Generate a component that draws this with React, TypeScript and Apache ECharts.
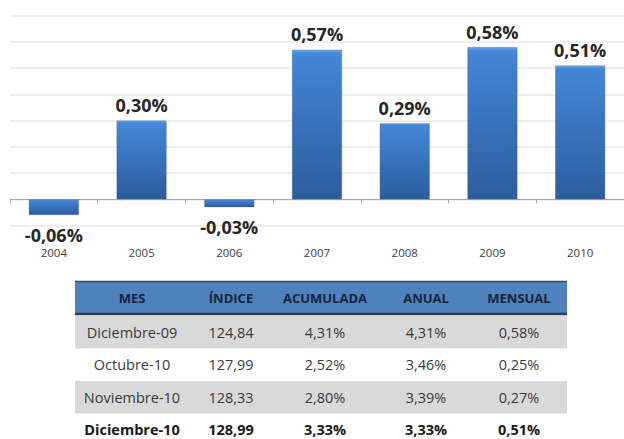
import React, { useEffect, useRef } from "react";
import * as echarts from "echarts";

const categories = ["2004", "2005", "2006", "2007", "2008", "2009", "2010"];
const values = [-0.06, 0.3, -0.03, 0.57, 0.29, 0.58, 0.51];
const yMin = -0.1;
const yMax = 0.7;
const yInterval = 0.1;

const tableHeaders = ["MES", "ÍNDICE", "ACUMULADA", "ANUAL", "MENSUAL"];
const tableMonths = ["Diciembre-09", "Octubre-10", "Noviembre-10", "Diciembre-10"];
const tableIndex = ["124,84", "127,99", "128,33", "128,99"];
const tableAcumulada = ["4,31%", "2,52%", "2,80%", "3,33%"];
const tableAnual = ["4,31%", "3,46%", "3,39%", "3,33%"];
const tableMensual = ["0,58%", "0,25%", "0,27%", "0,51%"];

const fmt = (v: number) => v.toFixed(2).replace(".", ",") + "%";

function buildTable() {
  const left = 75;
  const right = 567;
  const colCenters = [132, 231, 325, 426, 519];
  const headerTop = 281;
  const headerBottom = 315;
  const rowH = 32.5;
  const els: any[] = [];
  els.push({
    type: "rect",
    shape: { x: left, y: headerTop, width: right - left, height: headerBottom - headerTop },
    style: { fill: "#4f81bd" },
  });
  els.push({
    type: "line",
    shape: { x1: left, y1: headerTop + 0.5, x2: right, y2: headerTop + 0.5 },
    style: { stroke: "#34495e", lineWidth: 1.5 },
  });
  els.push({
    type: "line",
    shape: { x1: left, y1: headerBottom - 1, x2: right, y2: headerBottom - 1 },
    style: { stroke: "#2c3e55", lineWidth: 2.5 },
  });
  tableHeaders.forEach((h, i) => {
    els.push({
      type: "text",
      style: {
        text: h,
        x: colCenters[i],
        y: (headerTop + headerBottom) / 2,
        align: "center",
        verticalAlign: "middle",
        textAlign: "center",
        textVerticalAlign: "middle",
        font: "bold 13px 'Open Sans'",
        fill: "#17243a",
      },
    });
  });
  const cols = [tableMonths, tableIndex, tableAcumulada, tableAnual, tableMensual];
  tableMonths.forEach((_, r) => {
    const top = headerBottom + 1 + r * rowH;
    if (r % 2 === 0) {
      els.push({
        type: "rect",
        shape: { x: left, y: top, width: right - left, height: rowH },
        style: { fill: "#d9d9d9" },
      });
    }
    const last = r === tableMonths.length - 1;
    cols.forEach((col, c) => {
      els.push({
        type: "text",
        style: {
          text: col[r],
          x: colCenters[c],
          y: top + rowH / 2,
          align: "center",
          verticalAlign: "middle",
          textAlign: "center",
          textVerticalAlign: "middle",
          font: last ? "bold 14.5px 'Open Sans'" : "14.5px 'Open Sans'",
          fill: last ? "#1a1a1a" : "#3a3a3a",
        },
      });
    });
  });
  return els;
}

export default function App() {
  const ref = useRef<HTMLDivElement>(null);
  useEffect(() => {
    if (!ref.current) return;
    const chart = echarts.init(ref.current, undefined, { renderer: "svg" });
    const barColor = new echarts.graphic.LinearGradient(0, 0, 0, 1, [
      { offset: 0, color: "#6ea6ea" },
      { offset: 0.025, color: "#4486d8" },
      { offset: 1, color: "#2c5d9d" },
    ]);
    chart.setOption({
      animation: false,
      backgroundColor: "#ffffff",
      grid: { left: 10, top: 15.5, width: 623, height: 210 },
      xAxis: [
        {
          type: "category",
          data: categories,
          position: "bottom",
          axisLine: { show: false, onZero: false },
          axisTick: { show: false },
          axisLabel: {
            margin: 21,
            color: "#404040",
            fontSize: 11.5,
            lineHeight: 12,
            fontFamily: "Open Sans",
          },
        },
        {
          type: "category",
          data: categories,
          position: "bottom",
          axisLine: { show: true, onZero: true, lineStyle: { color: "#a6a6a6", width: 1 } },
          axisTick: { show: true, length: 4, lineStyle: { color: "#a6a6a6" } },
          axisLabel: { show: false },
        },
      ],
      yAxis: {
        type: "value",
        min: yMin,
        max: yMax,
        interval: yInterval,
        axisLabel: { show: false },
        axisLine: { show: false },
        axisTick: { show: false },
        splitLine: { lineStyle: { color: "#e8e8e8", width: 1.5 } },
      },
      series: [
        {
          type: "bar",
          xAxisIndex: 0,
          barWidth: 50,
          data: values.map((v) => ({
            value: v,
            label: v < 0 ? { position: "bottom", distance: 11 } : { position: "top", distance: 7 },
          })),
          itemStyle: { color: barColor, borderColor: "rgba(38,78,135,0.5)", borderWidth: 0.5 },
          label: {
            show: true,
            formatter: (p: any) => fmt(p.value),
            fontFamily: "Open Sans",
            fontWeight: "bold",
            fontSize: 18,
            lineHeight: 17,
            color: "#262626",
          },
        },
      ],
      graphic: { elements: buildTable() },
    });
    return () => chart.dispose();
  }, []);
  return (
    <div
      ref={ref}
      style={{ position: "absolute", left: 0, top: 0, width: 624, height: 439, background: "#fff" }}
    />
  );
}
